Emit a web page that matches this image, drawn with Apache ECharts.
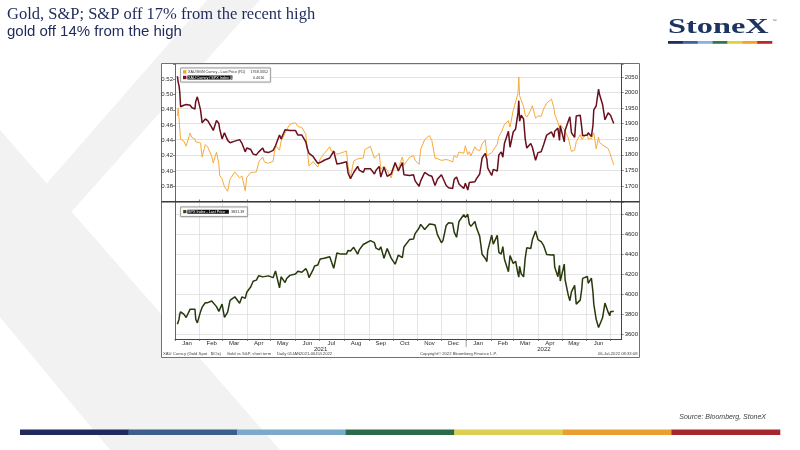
<!DOCTYPE html>
<html><head><meta charset="utf-8">
<script src="https://cdn.jsdelivr.net/npm/echarts@6/dist/echarts.min.js"></script>
<style>html,body{margin:0;padding:0;background:#fff}#c{width:800px;height:450px}</style>
</head><body><div id="c"></div>
<script>
// ---------------- data ----------------
const dates = [
 '2021-01-04','2021-01-05','2021-01-06','2021-01-07','2021-01-08','2021-01-12','2021-01-15','2021-01-20','2021-01-22','2021-01-26','2021-01-27','2021-01-29',
 '2021-02-02','2021-02-04','2021-02-08','2021-02-11','2021-02-16','2021-02-18','2021-02-22','2021-02-25','2021-02-26',
 '2021-03-01','2021-03-04','2021-03-08','2021-03-11','2021-03-17','2021-03-23','2021-03-26','2021-03-30',
 '2021-04-01','2021-04-06','2021-04-09','2021-04-13','2021-04-16','2021-04-21','2021-04-23','2021-04-28',
 '2021-05-04','2021-05-07','2021-05-12','2021-05-14','2021-05-19','2021-05-21','2021-05-25',
 '2021-06-01','2021-06-04','2021-06-09','2021-06-14','2021-06-16','2021-06-18','2021-06-23','2021-06-25','2021-06-29',
 '2021-07-02','2021-07-07','2021-07-09','2021-07-14','2021-07-16','2021-07-19','2021-07-23','2021-07-28',
 '2021-08-04','2021-08-06','2021-08-09','2021-08-13','2021-08-18','2021-08-20','2021-08-25','2021-08-27',
 '2021-09-03','2021-09-08','2021-09-10','2021-09-14','2021-09-16','2021-09-20','2021-09-24','2021-09-29',
 '2021-10-04','2021-10-08','2021-10-13','2021-10-15','2021-10-22','2021-10-27','2021-10-29',
 '2021-11-03','2021-11-05','2021-11-10','2021-11-16','2021-11-19','2021-11-23','2021-11-26',
 '2021-12-01','2021-12-03','2021-12-07','2021-12-10','2021-12-15','2021-12-17','2021-12-20','2021-12-23','2021-12-29','2021-12-31',
 '2022-01-03','2022-01-05','2022-01-07','2022-01-12','2022-01-14','2022-01-18','2022-01-21','2022-01-25','2022-01-27','2022-01-28',
 '2022-02-02','2022-02-04','2022-02-09','2022-02-11','2022-02-14','2022-02-16','2022-02-18','2022-02-23','2022-02-25',
 '2022-03-01','2022-03-04','2022-03-07','2022-03-08','2022-03-09','2022-03-11','2022-03-14','2022-03-16','2022-03-18','2022-03-23','2022-03-25','2022-03-29',
 '2022-04-01','2022-04-05','2022-04-08','2022-04-12','2022-04-14','2022-04-18','2022-04-21','2022-04-22','2022-04-26','2022-04-28','2022-04-29',
 '2022-05-04','2022-05-05','2022-05-09','2022-05-11','2022-05-13','2022-05-17','2022-05-19','2022-05-24','2022-05-26','2022-05-27',
 '2022-06-02','2022-06-03','2022-06-07','2022-06-09','2022-06-10','2022-06-13','2022-06-16','2022-06-17','2022-06-21','2022-06-24','2022-06-28','2022-06-30',
 '2022-07-01','2022-07-05'
];
const gold = [
 1925,1950,1918,1913,1850,1844,1828,1870,1856,1851,1842,1847,
 1838,1793,1833,1825,1795,1774,1808,1770,1734,
 1723,1697,1683,1722,1745,1726,1732,1684,
 1728,1743,1744,1745,1777,1793,1777,1773,
 1779,1831,1815,1844,1869,1881,1898,
 1903,1891,1888,1866,1812,1764,1778,1781,1761,
 1787,1804,1808,1826,1812,1812,1802,1806,
 1812,1763,1729,1780,1787,1781,1790,1817,
 1827,1789,1787,1805,1754,1764,1750,1726,
 1769,1757,1793,1767,1792,1797,1783,
 1769,1818,1849,1862,1846,1789,1788,
 1782,1783,1785,1783,1777,1798,1791,1809,1805,1829,
 1801,1810,1797,1826,1817,1813,1835,1848,1797,1791,
 1807,1808,1834,1859,1872,1870,1898,1910,1889,
 1943,1970,1998,2050,1990,1988,1955,1928,1921,1944,1958,1918,
 1925,1924,1947,1966,1972,1979,1951,1931,1904,1888,1897,
 1882,1877,1855,1853,1811,1815,1842,1865,1850,1853,
 1869,1851,1852,1848,1871,1819,1857,1840,1832,1827,1820,1807,
 1811,1768
];
const ratio = [
 0.524,0.516,0.512,0.503,0.484,0.486,0.487,0.486,0.483,0.481,0.491,0.497,
 0.480,0.463,0.468,0.466,0.457,0.453,0.466,0.462,0.455,
 0.442,0.450,0.440,0.437,0.439,0.441,0.436,0.425,
 0.430,0.428,0.422,0.421,0.425,0.430,0.425,0.424,
 0.427,0.433,0.447,0.442,0.454,0.453,0.453,
 0.453,0.447,0.447,0.438,0.429,0.423,0.419,0.416,0.410,
 0.411,0.414,0.414,0.417,0.419,0.426,0.409,0.410,
 0.412,0.397,0.390,0.398,0.406,0.401,0.398,0.403,
 0.403,0.396,0.401,0.406,0.392,0.405,0.393,0.396,
 0.411,0.400,0.411,0.395,0.394,0.395,0.387,
 0.380,0.387,0.398,0.394,0.393,0.381,0.389,
 0.395,0.393,0.381,0.378,0.377,0.389,0.392,0.383,0.377,0.384,
 0.375,0.385,0.384,0.386,0.390,0.396,0.417,0.423,0.415,0.404,
 0.394,0.402,0.400,0.421,0.425,0.418,0.436,0.452,0.431,
 0.451,0.455,0.476,0.492,0.465,0.473,0.468,0.442,0.430,0.436,0.431,0.414,
 0.424,0.425,0.434,0.447,0.449,0.451,0.444,0.452,0.456,0.440,0.459,
 0.438,0.453,0.465,0.471,0.450,0.444,0.472,0.473,0.456,0.446,
 0.447,0.450,0.445,0.460,0.480,0.485,0.507,0.501,0.487,0.467,0.476,0.477,
 0.473,0.462
];
const spx = [
 3700,3726,3748,3803,3824,3801,3768,3851,3841,3850,3750,3714,
 3826,3871,3915,3916,3932,3913,3876,3829,3811,
 3901,3768,3821,3939,3974,3910,3974,3958,
 4020,4074,4129,4141,4185,4173,4180,4183,
 4165,4232,4063,4174,4116,4156,4188,
 4202,4230,4219,4255,4224,4166,4242,4281,4291,
 4352,4358,4370,4374,4327,4258,4411,4400,
 4402,4437,4432,4468,4400,4442,4496,4509,
 4535,4514,4459,4443,4473,4358,4455,4360,
 4300,4391,4364,4471,4545,4551,4605,
 4660,4697,4646,4700,4698,4690,4594,
 4513,4538,4686,4712,4709,4620,4568,4726,4793,4766,
 4797,4700,4677,4726,4662,4577,4398,4357,4326,4432,
 4590,4500,4587,4418,4401,4475,4349,4225,4385,
 4306,4329,4201,4170,4278,4204,4173,4357,4463,4456,4543,4631,
 4545,4525,4488,4397,4392,4391,4394,4272,4175,4288,4132,
 4300,4147,3991,3935,4024,4088,3901,3941,4057,4158,
 4177,4109,4161,4018,3901,3750,3667,3675,3765,3912,3821,3785,
 3825,3831
];
const monthNames = ['Jan','Feb','Mar','Apr','May','Jun','Jul','Aug','Sep','Oct','Nov','Dec'];
const yearLabels = ['2021','2022'];
const ratioTickRange = [0.38, 0.52];
const goldTickRange = [1700, 2050];
const spxTickRange = [3600, 4800];
const goldLegend = ['XAU BGN Curncy - Last Price (R1)', '1768.3352'];
const ratioLegend = ['XAU Curncy / SPX Index (L1)', '0.4616'];
const spxLegend = ['SPX Index - Last Price', '3831.39'];

// ---------------- chart ----------------
const DAY = 86400000;
const xMin = new Date(2021,0,1).getTime();
const xMax = new Date(2022,6,15).getTime();
const SANS = '"Liberation Sans", Arial, sans-serif';
const axisTxt = {fontSize:6, color:'#2b2b2b', fontFamily:SANS};

const chart = echarts.init(document.getElementById('c'), null, {renderer:'canvas'});
const L = 175, R = 178.3;
const option = {
  animation:false,
  backgroundColor:'#ffffff',
  textStyle:{fontFamily:SANS},
  grid:[
    {left:L, right:R, top:64, height:137.5},
    {left:L, right:R, top:202, height:132.3},
    {left:L, right:R, top:202, height:137}
  ],
  xAxis:[
    {gridIndex:0, type:'time', min:xMin, max:xMax, minInterval:28*DAY, maxInterval:31*DAY,
     axisLine:{show:true, lineStyle:{color:'#555', width:1}},
     axisTick:{show:true, inside:true, length:2, lineStyle:{color:'#555', width:0.7}},
     axisLabel:{show:false}, splitLine:{show:false}},
    {gridIndex:1, type:'time', min:xMin, max:xMax, show:false},
    {gridIndex:2, type:'time', min:xMin, max:xMax, minInterval:28*DAY, maxInterval:31*DAY,
     axisLine:{show:true, lineStyle:{color:'#444', width:1}},
     axisTick:{show:true, length:2, lineStyle:{color:'#555', width:0.7}},
     axisLabel:Object.assign({}, axisTxt, {margin:1, align:'center', padding:[0,0,0,24],
       formatter:function(v){ const d=new Date(v); if (d.getFullYear()===2022 && d.getMonth()>=6) return ''; return monthNames[d.getMonth()]; }}),
     splitLine:{show:true, lineStyle:{color:'#dadada', width:0.7}}}
  ],
  yAxis:[
    {gridIndex:0, type:'value', position:'left', min:0.36, max:0.54, interval:0.02,
     axisLine:{show:true, lineStyle:{color:'#666', width:1}},
     axisTick:{show:true, length:2, lineStyle:{color:'#555', width:0.7}},
     axisLabel:Object.assign({}, axisTxt, {margin:2, formatter:function(v){ return (v>=ratioTickRange[0]-0.001 && v<=ratioTickRange[1]+0.001) ? v.toFixed(2) : ''; }}),
     splitLine:{show:false}},
    {gridIndex:0, type:'value', position:'right', min:1650, max:2092, interval:50,
     axisLine:{show:true, lineStyle:{color:'#444', width:1}},
     axisTick:{show:true, length:2, lineStyle:{color:'#555', width:0.7}},
     axisLabel:Object.assign({}, axisTxt, {margin:3, formatter:function(v){ return (v>=goldTickRange[0] && v<=goldTickRange[1]) ? String(v) : ''; }}),
     splitLine:{show:true, lineStyle:{color:'#d7d7d7', width:0.7}}},
    {gridIndex:1, type:'value', position:'right', min:3600, max:4920, interval:200,
     axisLine:{show:false},
     axisTick:{show:true, length:2, lineStyle:{color:'#555', width:0.7}},
     axisLabel:Object.assign({}, axisTxt, {margin:3, formatter:function(v){ return (v>=spxTickRange[0] && v<=spxTickRange[1]) ? String(v) : ''; }}),
     splitLine:{show:true, lineStyle:{color:'#dadada', width:0.7}}},
    {gridIndex:2, type:'value', position:'left', min:0, max:1,
     axisLine:{show:true, lineStyle:{color:'#666', width:1}}, axisTick:{show:false}, axisLabel:{show:false}, splitLine:{show:false}},
    {gridIndex:2, type:'value', position:'right', min:0, max:1,
     axisLine:{show:true, lineStyle:{color:'#444', width:1}}, axisTick:{show:false}, axisLabel:{show:false}, splitLine:{show:false}}
  ],
  series:[
    {name:'gold', type:'line', xAxisIndex:0, yAxisIndex:1, z:3, showSymbol:false, symbol:'none',
     data:dates.map((d,i)=>[d, gold[i]]), lineStyle:{color:'#f8aa3c', width:1}},
    {name:'ratio', type:'line', xAxisIndex:0, yAxisIndex:0, z:4, showSymbol:false, symbol:'none',
     data:dates.map((d,i)=>[d, ratio[i]]), lineStyle:{color:'#6a0f1d', width:1.5}},
    {name:'spx', type:'line', xAxisIndex:1, yAxisIndex:2, z:4, showSymbol:false, symbol:'none',
     data:dates.map((d,i)=>[d, spx[i]]), lineStyle:{color:'#27390d', width:1.5}}
  ]
};
chart.setOption(option);

// ---------------- decorations ----------------
const g = [];
function T(x, y, text, font, fill, align, extra){
  const el = {type:'text', x:x, y:y, z:60, style:{text:text, font:font, fill:fill||'#333', textAlign:align||'left', textVerticalAlign:'middle'}};
  if (extra) Object.assign(el, extra);
  g.push(el);
}
function Rct(x, y, w, h, fill, z, stroke, lw){
  g.push({type:'rect', z:z==null?60:z, shape:{x:x,y:y,width:w,height:h}, style:{fill:fill, stroke:stroke||null, lineWidth:lw||0}});
}
// background X watermark
g.push({type:'polygon', z:-5, shape:{points:[[207,0],[260,0],[0,292],[0,237]]}, style:{fill:'#f2f2f2'}});
g.push({type:'polygon', z:-5, shape:{points:[[0,130],[280,450],[110,450],[0,317]]}, style:{fill:'#f2f2f2'}});
// chart frame
g.push({type:'rect', z:-4, shape:{x:161.5,y:63.5,width:478,height:294}, style:{fill:'#ffffff', stroke:'#707070', lineWidth:1}});
// panel divider
g.push({type:'line', z:30, shape:{x1:161.5,y1:201.8,x2:639.5,y2:201.8}, style:{stroke:'#3a3a3a', lineWidth:1.6}});

// title
T(7, 14.7, 'Gold, S&P; S&P off 17% from the recent high', '16.5px "Liberation Serif", "Times New Roman", serif', '#1f2a5a');
T(7, 32, 'gold off 14% from the high', '15px "Liberation Sans", Arial, sans-serif', '#1f2a5a');

// logo
T(668, 27.8, 'StoneX', 'bold 22px "Liberation Serif", serif', '#1d3461', 'left', {scaleX:1.47});
T(772.5, 21, '\u2122', '4px "Liberation Sans", sans-serif', '#1d3461');
const barCols = ['#1f2e5a','#3c64a4','#86b4dc','#2f7a4c','#e2d438','#f4a51f','#c0272d'];
barCols.forEach((c,i)=>Rct(668 + i*104/7, 41, 104/7 + 0.3, 2.8, c, 60));

// bottom strip and source
const stripCols = ['#212a5c','#3b5e8c','#7aa9c9','#2b6b4c','#dccf55','#e9a030','#a6282f'];
stripCols.forEach((c,i)=>Rct(20 + i*760/7, 429.5, 760/7 + 0.3, 5.5, c, 60));
T(766, 417, 'Source: Bloomberg, StoneX', 'italic 7px "Liberation Sans", Arial, sans-serif', '#404040', 'right');

// legends (top panel)
const LF = '3.7px "Liberation Sans", Arial, sans-serif';
g.push({type:'rect', z:50, shape:{x:180.5,y:68,width:90,height:14}, style:{fill:'#ffffff', stroke:'#8a8a8a', lineWidth:0.6, shadowBlur:1.5, shadowColor:'rgba(0,0,0,0.35)'}});
Rct(183, 70.2, 3.4, 3.4, '#f5a623', 61);
T(188, 72, goldLegend[0], LF, '#333');
T(250.5, 72, goldLegend[1], LF, '#333');
Rct(183, 75.8, 3.4, 3.4, '#7b1020', 61);
Rct(187.4, 75.6, 45, 4.0, '#111111', 61);
T(188, 77.6, ratioLegend[0], LF, '#ffffff', 'left', {z:62});
T(253, 77.6, ratioLegend[1], LF, '#333');
// legend (bottom panel)
g.push({type:'rect', z:50, shape:{x:180.5,y:207,width:67,height:9.5}, style:{fill:'#ffffff', stroke:'#8a8a8a', lineWidth:0.6, shadowBlur:1.5, shadowColor:'rgba(0,0,0,0.35)'}});
Rct(183.2, 210, 3.2, 3.2, '#2e4a12', 61);
Rct(187.4, 209.7, 41.5, 4.0, '#111111', 61);
T(188, 211.7, spxLegend[0], LF, '#ffffff', 'left', {z:62});
T(231, 211.7, spxLegend[1], LF, '#333');

// footer inside the chart
const FF = '4.2px "Liberation Sans", Arial, sans-serif';
T(163, 354, 'XAU Curncy (Gold Spot   $/Oz)     Gold vs S&P, short term     Daily 01JAN2021-06JUL2022', FF, '#444');
T(420, 354, 'Copyright\u00a9 2022 Bloomberg Finance L.P.', FF, '#444');
T(637.5, 354, '06-Jul-2022 08:33:08', FF, '#444', 'right');

// year labels + year separator tick, placed via the axis scale
const px = v => chart.convertToPixel({xAxisIndex:2}, v);
const y22 = new Date(2022,0,1).getTime();
const x22 = px(y22);
g.push({type:'line', z:30, shape:{x1:x22,y1:339,x2:x22,y2:347}, style:{stroke:'#777', lineWidth:0.7}});
T(px((xMin + y22)/2), 349.3, yearLabels[0], '6px "Liberation Sans", Arial, sans-serif', '#2b2b2b', 'center');
T(px((y22 + xMax)/2), 349.3, yearLabels[1], '6px "Liberation Sans", Arial, sans-serif', '#2b2b2b', 'center');

chart.setOption({graphic:{elements:g}});
</script>
</body></html>
